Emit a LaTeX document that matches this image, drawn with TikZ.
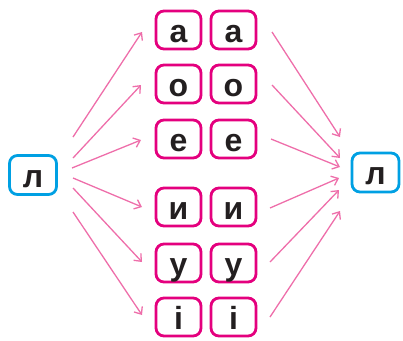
\documentclass[tikz,border=0pt]{standalone}
\usepackage{fontspec}
\setmainfont{Liberation Sans}
\usetikzlibrary{arrows.meta}
\definecolor{mag}{RGB}{228,0,126}
\definecolor{cyanb}{RGB}{0,160,227}
\definecolor{arr}{RGB}{238,110,170}
\definecolor{ink}{RGB}{35,31,32}
\begin{document}
\begin{tikzpicture}[x=1pt,y=-1pt,
  letter/.style={inner sep=0pt,text height=24pt,text depth=0pt,font=\fontsize{32}{32}\selectfont\bfseries,text=ink,rounded corners=8pt,line width=2.8pt},
  lbox/.style={letter,draw=mag,minimum width=45pt,minimum height=38pt},
  cbox/.style={letter,draw=cyanb,minimum width=47pt,minimum height=39pt},
  arrline/.style={draw=arr,line width=1.3pt,-{Straight Barb[length=6pt,width=10pt,line width=1.3pt]}}]
\useasboundingbox (0,0) rectangle (403,340);
\node[cbox] (L) at (33,175) {л};
\node[cbox] (R) at (375.5,172.5) {л};
\foreach \n/\t/\y in {a/а/30,o/о/84,e/е/139,i/и/207,u/у/263,ii/і/317}{
  \node[lbox] (\n1) at (178.5,\y) {\t};
  \node[lbox] (\n2) at (233.5,\y) {\t};
}
% left arrows
\coordinate (sa) at (73,137); \coordinate (ea) at (142,32);
\coordinate (so) at (73,158); \coordinate (eo) at (141,85);
\coordinate (se) at (72,168); \coordinate (ee) at (141,140);
\coordinate (si) at (73,178); \coordinate (ei) at (142,207);
\coordinate (su) at (73,188); \coordinate (eu) at (142,262);
\coordinate (sii) at (73,212); \coordinate (eii) at (142,315);
\foreach \n in {a,o,e,i,u,ii}{ \draw[arrline] (s\n) -- (e\n); }
% right arrows
\coordinate (ra) at (272,32); \coordinate (ta) at (340,137);
\coordinate (ro) at (272,85); \coordinate (to) at (340,158);
\coordinate (re) at (271,139); \coordinate (te) at (340,167);
\coordinate (ri) at (270,208); \coordinate (ti) at (339,178);
\coordinate (ru) at (270,262); \coordinate (tu) at (339,190);
\coordinate (rii) at (270,317); \coordinate (tii) at (340,211);
\foreach \n in {a,o,e,i,u,ii}{ \draw[arrline] (r\n) -- (t\n); }
\end{tikzpicture}
\end{document}
